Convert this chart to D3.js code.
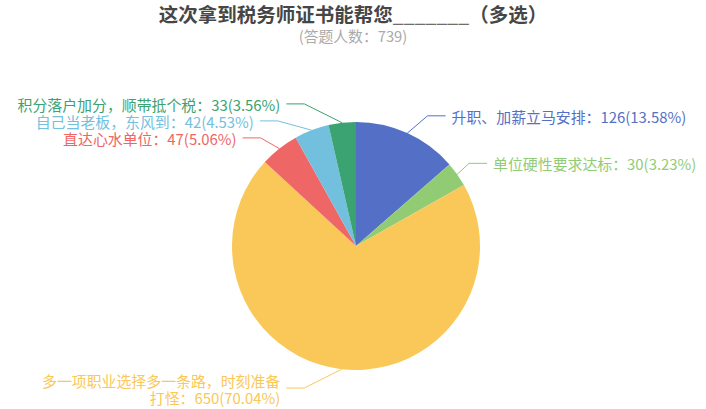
<!DOCTYPE html>
<html>
<head>
<meta charset="utf-8">
<script src="https://cdn.jsdelivr.net/npm/d3@7"></script>
<style>
	html, body { margin: 0; padding: 0; background: #fff; }
	svg { display: block; font-family: "Noto Sans CJK SC", "Noto Sans", sans-serif; }
</style>
</head>
<body>
<svg id="chart"></svg>
<script>
// chart data
var titleHead = "这次拿到税务师证书能帮您",
	titleBlank = "_______",
	titleTail = "（多选）";
var respondents = 739;
var categories = [
	"升职、加薪立马安排",
	"单位硬性要求达标",
	"多一项职业选择多一条路，时刻准备\n打怪",
	"直达心水单位",
	"自己当老板，东风到",
	"积分落户加分，顺带抵个税"
];
var counts = [126, 30, 650, 47, 42, 33];

var palette = ["#5470c6", "#91cc75", "#fac858", "#ee6666", "#73c0de", "#3ba272"];

var width = 706, height = 409,
	cx = 356, cy = 246, radius = 124,
	labelRadius = 143, lineLen2 = 18, labelGap = 6,
	ellipseA = 134, ellipseB = 154,
	fontSize = 14.9, lineHeight = 17, minSpacing = 16.8;

var svg = d3.select("#chart")
	.attr("width", width)
	.attr("height", height);

// title + subtitle
var title = svg.append("text")
	.attr("x", width / 2)
	.attr("y", 13)
	.attr("text-anchor", "middle")
	.attr("dominant-baseline", "central")
	.attr("fill", "#464646")
	.attr("font-size", 19.5)
	.attr("font-weight", "bold");
title.append("tspan").text(titleHead);
title.append("tspan").attr("fill", "#6e6e6e").attr("font-weight", "normal").text(titleBlank);
title.append("tspan").text(titleTail);

svg.append("text")
	.attr("x", width / 2)
	.attr("y", 35)
	.attr("text-anchor", "middle")
	.attr("dominant-baseline", "central")
	.attr("fill", "#aaa")
	.attr("font-size", 14.8)
	.text("(答题人数：" + respondents + ")");

// pie
var total = d3.sum(counts);
var pie = d3.pie().sort(null).value(function(d) { return d; });
var arcs = pie(counts);
var arc = d3.arc().innerRadius(0).outerRadius(radius);
var edgeArc = d3.arc().innerRadius(radius).outerRadius(radius);

var g = svg.append("g")
	.attr("transform", "translate(" + cx + "," + cy + ")");

g.selectAll("path.slice")
	.data(arcs)
	.enter()
	.append("path")
	.attr("class", "slice")
	.attr("fill", function(d, i) { return palette[i]; })
	.attr("d", arc);

// label layout: start on a ring outside the pie, push apart per side,
// then slide the elbow onto an ellipse like echarts does
var labels = arcs.map(function(d, i) {
	var mid = (d.startAngle + d.endAngle) / 2;
	var text = categories[i] + "：" + counts[i] + "(" + (counts[i] / total * 100).toFixed(2) + "%)";
	var lines = text.split("\n");
	return {
		index: i,
		dir: Math.sin(mid) < 0 ? -1 : 1,
		edge: edgeArc.centroid(d),
		y: -Math.cos(mid) * labelRadius,
		lines: lines,
		h: Math.max(minSpacing, lines.length * lineHeight)
	};
});

[-1, 1].forEach(function(side) {
	var list = labels.filter(function(l) { return l.dir === side; })
		.sort(function(a, b) { return a.y - b.y; });
	for (var k = 1; k < list.length; k++) {
		var minY = list[k - 1].y + (list[k - 1].h + list[k].h) / 2;
		if (list[k].y < minY) list[k].y = minY;
	}
});

labels.forEach(function(l) {
	var dy = l.y;
	var ex = ellipseA * Math.sqrt(Math.max(0, 1 - dy * dy / (ellipseB * ellipseB)));
	l.elbow = [l.dir * ex, l.y];
	l.end = [l.dir * (ex + lineLen2), l.y];
	l.tx = l.end[0] + l.dir * labelGap;
});

g.selectAll("polyline.label-line")
	.data(labels)
	.enter()
	.append("polyline")
	.attr("class", "label-line")
	.attr("fill", "none")
	.attr("stroke", function(l) { return palette[l.index]; })
	.attr("stroke-width", 1)
	.attr("points", function(l) { return [l.edge, l.elbow, l.end].map(function(p) { return p.join(","); }).join(" "); });

var texts = g.selectAll("text.label")
	.data(labels)
	.enter()
	.append("text")
	.attr("class", "label")
	.attr("font-size", fontSize)
	.attr("fill", function(l) { return palette[l.index]; })
	.attr("text-anchor", function(l) { return l.dir < 0 ? "end" : "start"; })
	.attr("dominant-baseline", "central");

texts.each(function(l) {
	var t = d3.select(this);
	var y0 = l.y - (l.lines.length - 1) * lineHeight / 2;
	l.lines.forEach(function(line, k) {
		t.append("tspan")
			.attr("x", l.tx)
			.attr("y", y0 + k * lineHeight)
			.text(line);
	});
});
</script>
</body>
</html>
